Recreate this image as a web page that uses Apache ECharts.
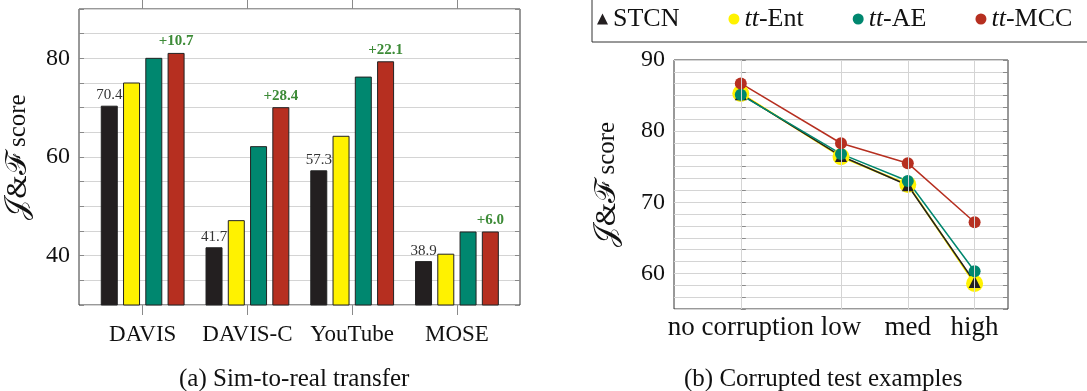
<!DOCTYPE html>
<html>
<head>
<meta charset="utf-8">
<script src="https://cdn.jsdelivr.net/npm/echarts@6/dist/echarts.min.js"></script>
<style>html,body{margin:0;padding:0;background:#fff;}#c{width:1087px;height:391px;}</style>
</head>
<body>
<div id="c"></div>
<script>
// ---- Data: (a) Sim-to-real transfer ----
const barCategories = ['DAVIS', 'DAVIS-C', 'YouTube', 'MOSE'];
const barSTCN = [70.4, 41.7, 57.3, 38.9];
const barEnt  = [75.1, 47.2, 64.3, 40.4];
const barAE   = [80.1, 62.2, 76.3, 44.9];
const barMCC  = [81.1, 70.1, 79.4, 44.9];
const barGain = ['+10.7', '+28.4', '+22.1', '+6.0'];
const barYTicks = [40, 60, 80];

// ---- Data: (b) Corrupted test examples ----
const lineCategories = ['no corruption', 'low', 'med', 'high'];
const lineX = [0, 3, 5, 7];
const lineSTCN = [85.2, 76.5, 72.4, 58.8];
const lineEnt  = [85.3, 76.4, 72.5, 58.6];
const lineAE   = [85.1, 76.8, 73.0, 60.3];
const lineMCC  = [86.7, 78.3, 75.5, 67.2];
const lineYTicks = [60, 70, 80, 90];

const C_BLACK = '#231f20', C_YEL = '#fff200', C_TEAL = '#00876f', C_RED = '#b62f20', C_GREEN = '#3d8b37';
const FONT = '"Liberation Serif", "Times New Roman", serif';
const GRIDC = '#d4d4d4', TICKC = '#8a8a8a';
const yName = '{s|\u{1D4A5}&\u2131} score';
const yNameStyle = {fontFamily: FONT, fontSize: 25, color: '#111',
  rich: {s: {fontFamily: FONT, fontSize: 30, color: '#111'}}};

function pair(xs, ys) { return xs.map((x, i) => [x, ys[i]]); }
function majorFmt(list) {
  return function (v) {
    for (const t of list) if (Math.abs(v - t) < 1e-6) return String(t);
    return '';
  };
}

const chart = echarts.init(document.getElementById('c'), null, {renderer: 'canvas'});

const barStyle = (c) => ({color: c, borderColor: '#222', borderWidth: 1});

const option = {
  animation: false,
  backgroundColor: '#fff',
  textStyle: {fontFamily: FONT},
  grid: [
    {left: 79, right: 567, top: 9, bottom: 86, show: true, borderColor: '#333', borderWidth: 1, backgroundColor: 'transparent'},
    {left: 90.3, width: 419, top: 9, bottom: 86},
    {left: 674, right: 79, top: 60, bottom: 82, show: true, borderColor: '#333', borderWidth: 1, backgroundColor: 'transparent'}
  ],
  xAxis: [
    {gridIndex: 0, type: 'value', min: 0, max: 1, show: false},
    {gridIndex: 1, type: 'category', data: barCategories, position: 'bottom',
     axisLine: {show: false}, axisTick: {show: true, alignWithLabel: true, inside: false, length: 10, lineStyle: {color: TICKC}},
     axisLabel: {interval: 0, fontFamily: FONT, fontSize: 23, color: '#111', margin: 18}, splitLine: {show: false}},
    {gridIndex: 1, type: 'category', data: barCategories, position: 'top',
     axisLine: {show: false}, axisTick: {show: true, alignWithLabel: true, inside: false, length: 10, lineStyle: {color: TICKC}},
     axisLabel: {show: false}, splitLine: {show: false}},
    {gridIndex: 2, type: 'value', min: -2, max: 8, position: 'bottom',
     axisLine: {show: false},
     axisTick: {show: true, customValues: lineX, inside: true, length: 4, lineStyle: {color: TICKC}},
     axisLabel: {customValues: lineX, formatter: (v) => lineCategories[lineX.indexOf(v)] || '', fontFamily: FONT, fontSize: 27, color: '#111', margin: 5},
     splitLine: {show: false}}
  ],
  yAxis: [
    {gridIndex: 0, type: 'value', min: 30, max: 90, interval: 5, position: 'left',
     axisLine: {show: false}, axisTick: {show: true, inside: true, length: 5, lineStyle: {color: TICKC}},
     axisLabel: {formatter: majorFmt(barYTicks), fontFamily: FONT, fontSize: 24, color: '#111', margin: 9},
     splitLine: {show: true, lineStyle: {color: GRIDC, width: 1}},
     name: yName, nameLocation: 'middle', nameGap: 46, nameTextStyle: yNameStyle},
    {gridIndex: 0, type: 'value', min: 30, max: 90, interval: 5, position: 'right',
     axisLine: {show: false}, axisTick: {show: true, inside: true, length: 5, lineStyle: {color: TICKC}},
     axisLabel: {show: false}, splitLine: {show: false}},
    {gridIndex: 1, type: 'value', min: 30, max: 90, show: false},
    {gridIndex: 2, type: 'value', min: 55, max: 90, interval: 5 / 3, position: 'left',
     axisLine: {show: false}, axisTick: {show: true, inside: true, length: 5, lineStyle: {color: TICKC}},
     axisLabel: {formatter: majorFmt(lineYTicks), fontFamily: FONT, fontSize: 24, color: '#111', margin: 9},
     splitLine: {show: true, lineStyle: {color: GRIDC, width: 1}},
     name: yName, nameLocation: 'middle', nameGap: 52, nameTextStyle: yNameStyle},
    {gridIndex: 2, type: 'value', min: 55, max: 90, interval: 5 / 3, position: 'right',
     axisLine: {show: false}, axisTick: {show: true, inside: true, length: 5, lineStyle: {color: TICKC}},
     axisLabel: {show: false}, splitLine: {show: false}}
  ],
  legend: {
    data: [{name: 'STCN', icon: 'triangle'}, {name: 'tt-Ent', icon: 'circle'}, {name: 'tt-AE', icon: 'circle'}, {name: 'tt-MCC', icon: 'circle'}],
    orient: 'horizontal', left: 592, top: -14, width: 560, padding: [20, 40, 10, 5], itemGap: 49, itemWidth: 11, itemHeight: 11,
    borderColor: '#333', borderWidth: 1, selectedMode: false,
    itemStyle: {borderWidth: 0},
    formatter: (n) => n.startsWith('tt-') ? '{i|tt}-' + n.slice(3) : n,
    textStyle: {fontFamily: FONT, fontSize: 26, color: '#111',
      rich: {i: {fontFamily: FONT, fontSize: 26, fontStyle: 'italic', color: '#111'}}}
  },
  series: [
    {name: 'bar-STCN', type: 'bar', xAxisIndex: 1, yAxisIndex: 2, data: barSTCN, barWidth: 17, barGap: '31%',
     itemStyle: barStyle(C_BLACK),
     label: {show: true, position: 'top', distance: 3, fontFamily: FONT, fontSize: 15, color: '#333'}},
    {name: 'bar-Ent', type: 'bar', xAxisIndex: 1, yAxisIndex: 2, data: barEnt, barWidth: 17, barGap: '31%', itemStyle: barStyle(C_YEL)},
    {name: 'bar-AE', type: 'bar', xAxisIndex: 1, yAxisIndex: 2, data: barAE, barWidth: 17, barGap: '31%', itemStyle: barStyle(C_TEAL)},
    {name: 'bar-MCC', type: 'bar', xAxisIndex: 1, yAxisIndex: 2, data: barMCC, barWidth: 17, barGap: '31%', itemStyle: barStyle(C_RED),
     label: {show: true, position: 'top', distance: 4, fontFamily: FONT, fontSize: 15, fontWeight: 'bold', color: C_GREEN,
       formatter: (p) => barGain[p.dataIndex]}},

    {name: 'xgrid', type: 'line', xAxisIndex: 3, yAxisIndex: 3, data: [], z: 0, silent: true,
     markLine: {silent: true, symbol: ['none', 'none'], animation: false, label: {show: false},
       lineStyle: {color: GRIDC, width: 1, type: 'solid'},
       emphasis: {disabled: true},
       data: lineX.map((x) => ({xAxis: x}))}},
    {name: 'tt-Ent', type: 'line', xAxisIndex: 3, yAxisIndex: 3, data: pair(lineX, lineEnt),
     symbol: 'circle', symbolSize: 17, itemStyle: {color: C_YEL}, lineStyle: {color: C_YEL, width: 2}},
    {name: 'STCN', type: 'line', xAxisIndex: 3, yAxisIndex: 3, data: pair(lineX, lineSTCN),
     symbol: 'triangle', symbolSize: 12, itemStyle: {color: C_BLACK}, lineStyle: {color: C_BLACK, width: 1.5}},
    {name: 'tt-AE', type: 'line', xAxisIndex: 3, yAxisIndex: 3, data: pair(lineX, lineAE),
     symbol: 'circle', symbolSize: 12, itemStyle: {color: C_TEAL}, lineStyle: {color: C_TEAL, width: 1.5}},
    {name: 'tt-MCC', type: 'line', xAxisIndex: 3, yAxisIndex: 3, data: pair(lineX, lineMCC),
     symbol: 'circle', symbolSize: 12, itemStyle: {color: C_RED}, lineStyle: {color: C_RED, width: 1.5}}
  ],
  graphic: [
    {type: 'text', left: 179, top: 367, style: {text: '(a) Sim-to-real transfer', font: '25px ' + FONT, fill: '#111'}},
    {type: 'text', left: 684, top: 367, style: {text: '(b) Corrupted test examples', font: '25px ' + FONT, fill: '#111'}}
  ]
};
chart.setOption(option);
</script>
</body>
</html>
